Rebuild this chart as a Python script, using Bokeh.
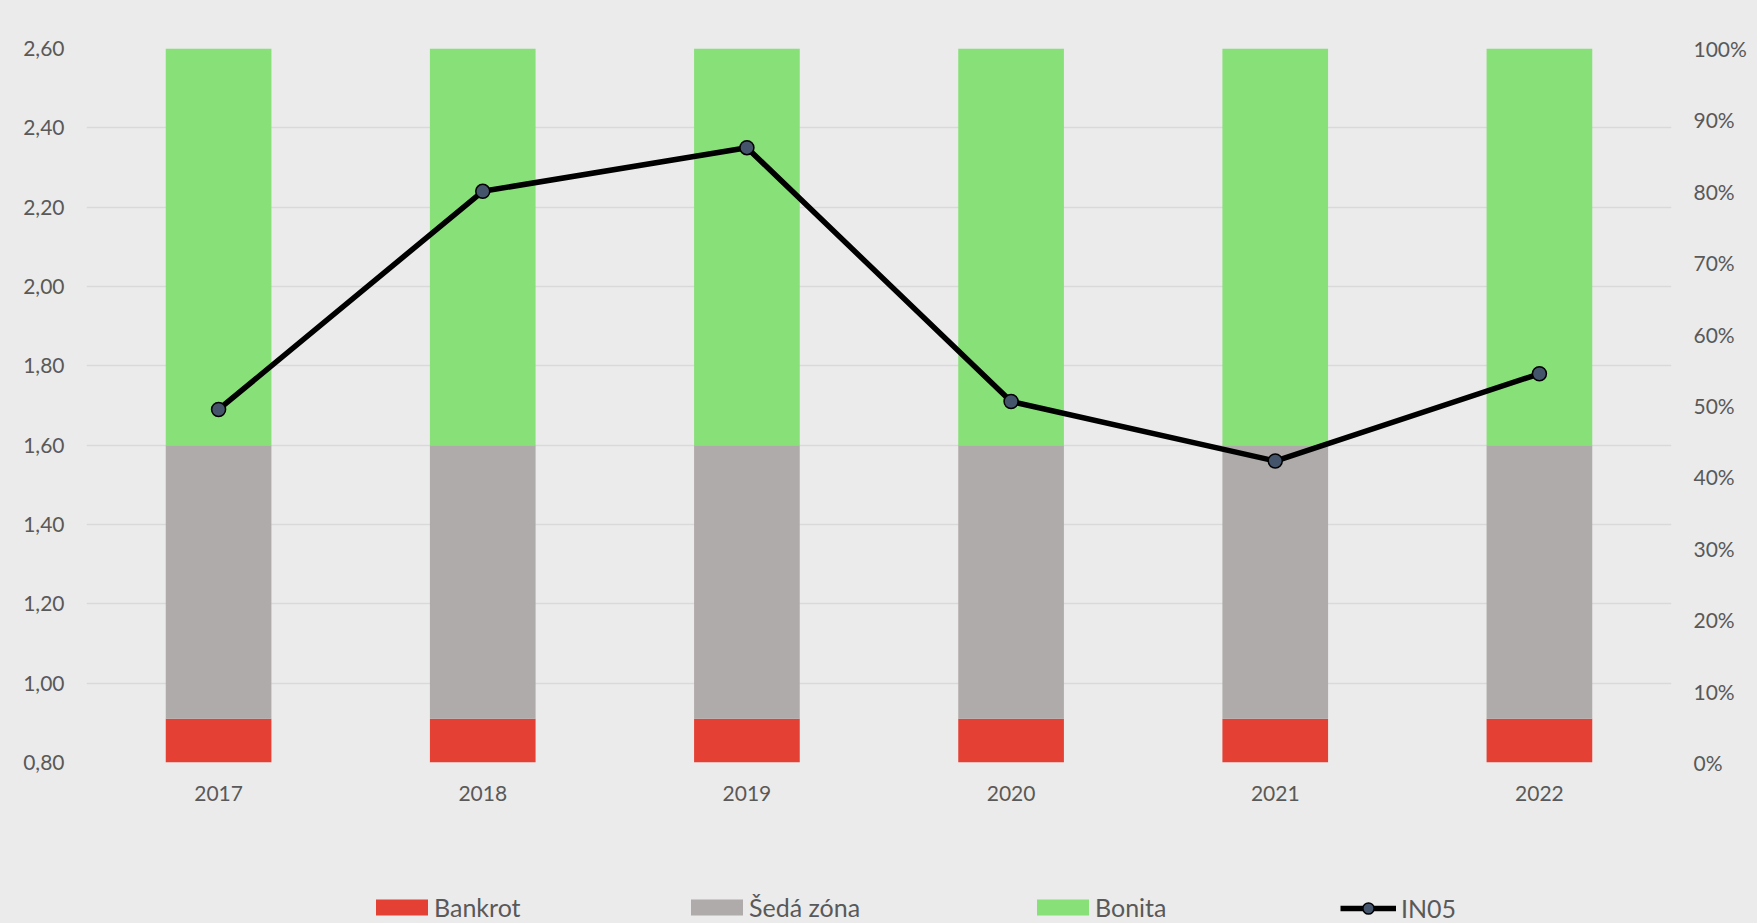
from bokeh.plotting import figure
from bokeh.layouts import column
from bokeh.models import (FactorRange, Range1d, LinearAxis, FixedTicker,
                          CustomJSTickFormatter, Legend, LegendItem, ColumnDataSource)
from bokeh.embed import file_html
from bokeh.resources import INLINE

# ---- data ----
years = ["2017", "2018", "2019", "2020", "2021", "2022"]
bankrot = [0.91, 0.91, 0.91, 0.91, 0.91, 0.91]
seda_zona = [0.69, 0.69, 0.69, 0.69, 0.69, 0.69]
bonita = [1.00, 1.00, 1.00, 1.00, 1.00, 1.00]
in05 = [1.69, 2.24, 2.35, 1.71, 1.56, 1.78]
left_ticks = [0.8, 1.0, 1.2, 1.4, 1.6, 1.8, 2.0, 2.2, 2.4, 2.6]
right_ticks = [0.0, 0.1, 0.2, 0.3, 0.4, 0.5, 0.6, 0.7, 0.8, 0.9, 1.0]
labels = ["Bankrot", "Šedá zóna", "Bonita", "IN05"]

# ---- style ----
BG = "#EBEBEB"
TXT = "#595959"
FONT = "Lato"
colors = ["#E44134", "#AFABAA", "#88E078"]
MARKER = "#44546A"

W = 1757
H_MAIN = 870
H_LEG = 53

src = ColumnDataSource(dict(year=years, bankrot=bankrot, seda=seda_zona,
                            bonita=bonita, in05=in05))

p = figure(width=W, height=H_MAIN, x_range=FactorRange(*years, range_padding=0),
           y_range=Range1d(0.8, 2.6), output_backend="svg", toolbar_location=None,
           min_border_left=86, min_border_right=86, min_border_top=48,
           min_border_bottom=H_MAIN - 762)
p.background_fill_color = BG
p.border_fill_color = BG
p.outline_line_color = None

bars = p.vbar_stack(["bankrot", "seda", "bonita"], x="year", width=0.4,
                    color=colors, source=src, line_width=0)
ln = p.line(x="year", y="in05", source=src, line_width=5.5, line_color="black",
            line_join="round")
sc = p.scatter(x="year", y="in05", source=src, size=14, fill_color=MARKER,
               line_color="black", line_width=1.5)

# grid
p.xgrid.grid_line_color = None
p.ygrid.grid_line_color = "#D9D9D9"
p.ygrid.grid_line_width = 1.5
p.ygrid.ticker = FixedTicker(ticks=left_ticks)


def style_axis(ax):
    ax.axis_line_color = None
    ax.major_tick_line_color = None
    ax.minor_tick_line_color = None
    ax.major_tick_out = 0
    ax.major_tick_in = 0
    ax.major_label_text_font = FONT
    ax.major_label_text_font_size = "21px"
    ax.major_label_text_color = TXT


yl = p.yaxis[0]
yl.ticker = FixedTicker(ticks=left_ticks)
yl.formatter = CustomJSTickFormatter(code="return tick.toFixed(2).replace('.', ',');")
style_axis(yl)
yl.major_label_standoff = 22

p.extra_y_ranges = {"pct": Range1d(0, 1)}
yr = LinearAxis(y_range_name="pct")
yr.ticker = FixedTicker(ticks=right_ticks)
yr.formatter = CustomJSTickFormatter(code="return Math.round(tick*100) + '%';")
style_axis(yr)
yr.major_label_standoff = 22
p.add_layout(yr, "right")

xa = p.xaxis[0]
style_axis(xa)
xa.major_label_standoff = 23

# ---- legend strip (separate canvas below the chart) ----
# same data, drawn with a y range far above the values so only the legend shows
pl = figure(width=W, height=H_LEG, x_range=FactorRange(*years, range_padding=0),
            y_range=Range1d(100, 101), output_backend="svg", toolbar_location=None,
            min_border=0, x_axis_location=None, y_axis_location=None)
pl.background_fill_color = None
pl.border_fill_color = None
pl.outline_line_color = None
pl.grid.visible = False

lbars = pl.vbar_stack(["bankrot", "seda", "bonita"], x="year", width=0.4,
                      color=colors, source=src, line_width=0)
lln = pl.line(x="year", y="in05", source=src, line_width=5.5, line_color="black")
lsc = pl.scatter(x="year", y="in05", source=src, size=14, fill_color=MARKER,
                 line_color="black", line_width=1.5)

# x offsets are measured from the plot-area left edge (aligned with chart above)
legend_specs = [
    (labels[0], [lbars[0]], 283, 65, 20, 0, 1),
    (labels[1], [lbars[1]], 598, 65, 20, 0, 1),
    (labels[2], [lbars[2]], 944, 65, 20, 0, 1),
    (labels[3], [lln, lsc], 1254, 56, 28, 5, 0),
]
for lab, rends, xloc, gw, gh, so, yloc in legend_specs:
    leg = Legend(items=[LegendItem(label=lab, renderers=rends)],
                 location=(xloc, yloc), orientation="horizontal",
                 glyph_width=gw, glyph_height=gh, label_height=gh,
                 label_standoff=so, padding=0, margin=0,
                 border_line_color=None, background_fill_alpha=0,
                 label_text_font=FONT, label_text_font_size="25px",
                 label_text_color=TXT)
    pl.add_layout(leg)

layout = column(p, pl, spacing=0)
html = file_html(layout, INLINE)
html = html.replace("</head>",
                    "<style>html, body { background-color: #EBEBEB; }</style>\n</head>", 1)
open("out.html", "w").write(html)
